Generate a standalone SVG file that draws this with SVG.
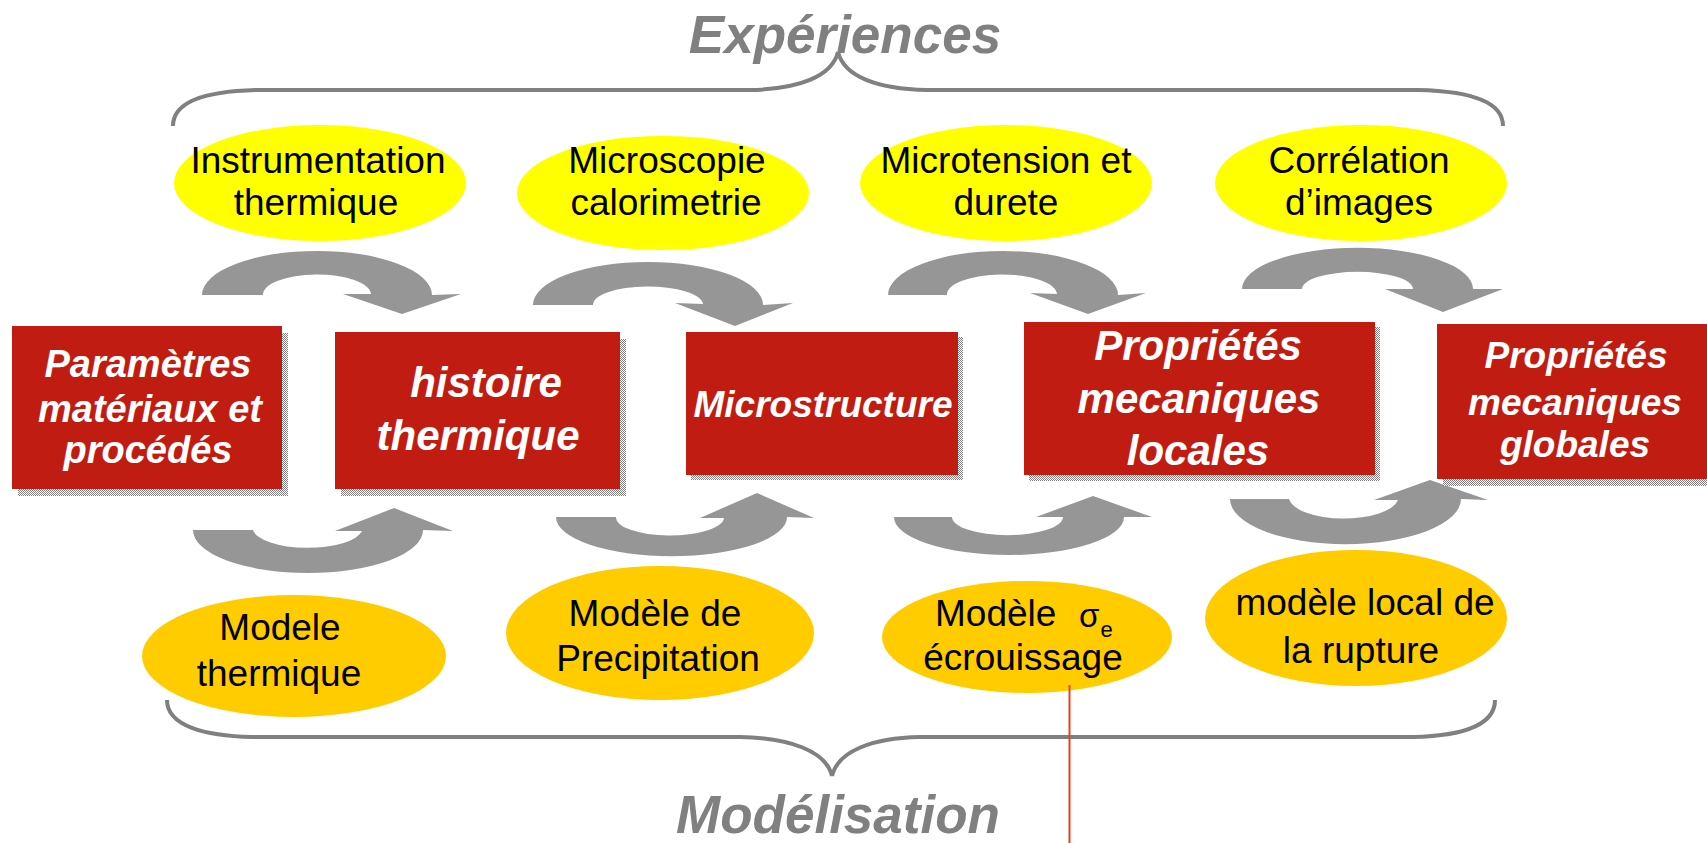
<svg xmlns="http://www.w3.org/2000/svg" width="1707" height="843" viewBox="0 0 1707 843">
  <defs>
    <pattern id="dither" width="2" height="2" patternUnits="userSpaceOnUse">
      <rect width="2" height="2" fill="#ffffff"/>
      <rect width="1" height="1" fill="#808080"/>
      <rect x="1" y="1" width="1" height="1" fill="#808080"/>
    </pattern>
    <style>
      .title { font-family: "Liberation Sans", Arial, sans-serif; font-weight: bold; font-style: italic; font-size: 53px; fill: #808080; text-anchor: middle; }
      .brace { fill: none; stroke: #808080; stroke-width: 4; stroke-linecap: butt; }
      .arrow { fill: #969696; stroke: none; }
      .box { fill: #C11C12; }
      .shadow { fill: url(#dither); }
      .boxtxt { font-family: "Liberation Sans", Arial, sans-serif; font-weight: bold; font-style: italic; fill: #ffffff; text-anchor: middle; }
      .exp { fill: #FFFF00; }
      .mod { fill: #FFCC00; }
      .eltxt { font-family: "Liberation Sans", Arial, sans-serif; font-size: 37px; fill: #000000; text-anchor: middle; }
      .start { text-anchor: start; }
      .sigma { font-size: 33px; }
      .sub { font-size: 22px; }
    </style>
  </defs>

  <rect width="1707" height="843" fill="#ffffff"/>

  <!-- Section titles -->
  <g id="titles">
    <text class="title" x="845" y="53">Expériences</text>
    <text class="title" x="838" y="833">Modélisation</text>
  </g>

  <!-- Curly braces -->
  <g id="braces">
    <path class="brace" d="M173,126 C173,100 210,91 258,90 L750,90 C800,89 832,76 838,52"/>
    <path class="brace" d="M838,52 C844,76 876,89 927,90 L1418,90 C1465,91 1503,100 1503,126"/>
    <path class="brace" d="M167,700 C167,726 205,736 252,737 L740,737 C790,738 826,751 832,776"/>
    <path class="brace" d="M832,776 C838,751 872,738 920,737 L1413,737 C1460,736 1495,726 1495,700"/>
  </g>

  <!-- Curved flow arrows -->
  <g id="connectors">
    <path class="arrow" d="M202,295 A115,44 0 0 1 432,295 L461,294 L402,314 L343,294 L371,294 A54,20 0 0 0 263,295 Z"/>
    <path class="arrow" d="M533,305 A115,43 0 0 1 763,305 L793,303 L735,326 L675,303 L703,304 A55,18 0 0 0 593,305 Z"/>
    <path class="arrow" d="M888,295 A115,44 0 0 1 1118,295 L1146,293 L1088,314 L1030,293 L1057,294 A55,20 0 0 0 947,295 Z"/>
    <path class="arrow" d="M1242,289 A115,41 0 0 1 1473,289 L1503,289 L1443,312 L1385,289 L1413,289 A55,17 0 0 0 1302,289 Z"/>

    <path class="arrow" d="M193,530 A115,43 0 0 0 423,530 L453,531 L394,508 L335,531 L362,531 A55,20 0 0 1 253,530 Z"/>
    <path class="arrow" d="M556,517 A115,39 0 0 0 787,517 L814,518 L757,493 L700,518 L724,518 A54,18 0 0 1 616,517 Z"/>
    <path class="arrow" d="M894,517 A115,38 0 0 0 1124,517 L1152,517 L1093,496 L1036,517 L1063,517 A55,18 0 0 1 952,517 Z"/>
    <path class="arrow" d="M1230,499 A115,45 0 0 0 1461,499 L1488,500 L1430,480 L1374,500 L1398,500 A55,22 0 0 1 1289,499 Z"/>
  </g>

  <!-- Experiment ellipses -->
  <g id="exp-instrumentation">
    <ellipse class="exp" cx="320" cy="183" rx="146" ry="58"/>
    <text class="eltxt" x="318" y="173">Instrumentation</text>
    <text class="eltxt" x="316" y="215">thermique</text>
  </g>
  <g id="exp-microscopie">
    <ellipse class="exp" cx="663" cy="193" rx="146" ry="57"/>
    <text class="eltxt" x="667" y="173">Microscopie</text>
    <text class="eltxt" x="666" y="215">calorimetrie</text>
  </g>
  <g id="exp-microtension">
    <ellipse class="exp" cx="1006" cy="183" rx="146" ry="58"/>
    <text class="eltxt" x="1006" y="173">Microtension et</text>
    <text class="eltxt" x="1006" y="215">durete</text>
  </g>
  <g id="exp-correlation">
    <ellipse class="exp" cx="1361" cy="183" rx="146" ry="58"/>
    <text class="eltxt" x="1359" y="173">Corrélation</text>
    <text class="eltxt" x="1359" y="215">d’images</text>
  </g>

  <!-- Process boxes -->
  <g id="box-parametres">
    <rect class="shadow" x="18" y="333" width="270" height="163"/>
    <rect class="box" x="12" y="326" width="270" height="163"/>
    <text class="boxtxt" font-size="38" x="148" y="377">Paramètres</text>
    <text class="boxtxt" font-size="38" x="150" y="422">matériaux et</text>
    <text class="boxtxt" font-size="38" x="148" y="463">procédés</text>
  </g>
  <g id="box-histoire">
    <rect class="shadow" x="341" y="339" width="285" height="157"/>
    <rect class="box" x="335" y="332" width="285" height="157"/>
    <text class="boxtxt" font-size="42" x="486" y="397">histoire</text>
    <text class="boxtxt" font-size="42" x="478" y="450">thermique</text>
  </g>
  <g id="box-microstructure">
    <rect class="shadow" x="691" y="337" width="272" height="143"/>
    <rect class="box" x="686" y="332" width="272" height="143"/>
    <text class="boxtxt" font-size="37" x="823" y="417">Microstructure</text>
  </g>
  <g id="box-proprietes-locales">
    <rect class="shadow" x="1029" y="327" width="351" height="154"/>
    <rect class="box" x="1024" y="322" width="351" height="153"/>
    <text class="boxtxt" font-size="42" x="1198" y="360">Propriétés</text>
    <text class="boxtxt" font-size="42" x="1199" y="413">mecaniques</text>
    <text class="boxtxt" font-size="42" x="1198" y="465">locales</text>
  </g>
  <g id="box-proprietes-globales">
    <rect class="shadow" x="1443" y="330" width="264" height="156"/>
    <rect class="box" x="1437" y="324" width="270" height="155"/>
    <text class="boxtxt" font-size="37" x="1576" y="368">Propriétés</text>
    <text class="boxtxt" font-size="37" x="1575" y="415">mecaniques</text>
    <text class="boxtxt" font-size="37" x="1575" y="457">globales</text>
  </g>

  <!-- Model ellipses -->
  <g id="mod-thermique">
    <ellipse class="mod" cx="294" cy="656" rx="152" ry="61"/>
    <text class="eltxt" x="280" y="640">Modele</text>
    <text class="eltxt" x="279" y="686">thermique</text>
  </g>
  <g id="mod-precipitation">
    <ellipse class="mod" cx="660" cy="633" rx="154" ry="67"/>
    <text class="eltxt" x="655" y="626">Modèle de</text>
    <text class="eltxt" x="658" y="671">Precipitation</text>
  </g>
  <g id="mod-ecrouissage">
    <ellipse class="mod" cx="1027" cy="637" rx="145" ry="56"/>
    <text class="eltxt start" x="935" y="626">Modèle</text>
    <text class="eltxt start sigma" x="1079" y="627">σ<tspan class="sub" dx="1" dy="10">e</tspan></text>
    <text class="eltxt" x="1023" y="670">écrouissage</text>
  </g>
  <g id="mod-rupture">
    <ellipse class="mod" cx="1356" cy="618" rx="151" ry="68"/>
    <text class="eltxt" x="1365" y="615">modèle local de</text>
    <text class="eltxt" x="1361" y="663">la rupture</text>
  </g>

  <!-- Vertical marker line -->
  <line x1="1069.5" y1="685" x2="1069.5" y2="843" stroke="#E8401C" stroke-width="2"/>
</svg>
